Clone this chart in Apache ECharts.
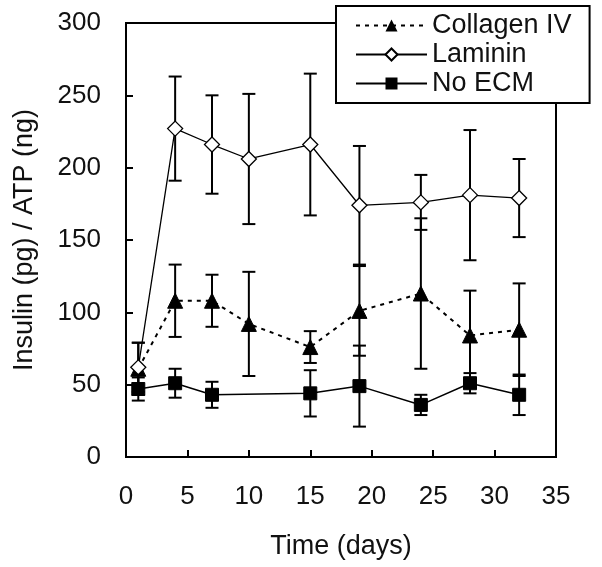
<!DOCTYPE html>
<html>
<head>
<meta charset="utf-8">
<script src="https://cdn.jsdelivr.net/npm/echarts@6/dist/echarts.min.js"></script>
<style>html,body{margin:0;padding:0;background:#fff}#c{width:602px;height:567px}</style>
</head>
<body>
<div id="c"></div>
<script>
var days = [1, 4, 7, 10, 15, 19, 24, 28, 32];
var collagen    = [61, 108, 108, 92, 76, 101, 113, 84, 88];
var collagenErr = [18, 25, 18, 36, 11, 31, 52, 31, 32];
var laminin     = [62, 227, 216, 206, 216, 174, 176, 181, 179];
var lamininErr  = [17, 36, 34, 45, 49, 41, 19, 45, 27];
var noEcm       = [47, 51, 43, null, 44, 49, 36, 51, 43];
var noEcmErr    = [8, 10, 9, null, 16, 28, 7, 7, 14];
var xTicks = [0, 35, 5];
var yTicks = [0, 300, 50];

var FONT = '"Liberation Sans", Arial, sans-serif';
var TXT = '#111';

function pts(vals) {
  return days.map(function (d, i) { return [d, vals[i]]; });
}
function errs(vals, e) {
  var out = [];
  days.forEach(function (d, i) {
    if (vals[i] != null) out.push([d, vals[i] - e[i], vals[i] + e[i]]);
  });
  return out;
}
function renderErr(params, api) {
  var x = api.value(0), lo = api.value(1), hi = api.value(2);
  var p1 = api.coord([x, hi]), p2 = api.coord([x, lo]);
  var hw = 6.5;
  var st = { stroke: '#000', lineWidth: 2 };
  return {
    type: 'group',
    children: [
      { type: 'line', shape: { x1: p1[0], y1: p1[1], x2: p2[0], y2: p2[1] }, style: st },
      { type: 'line', shape: { x1: p1[0] - hw, y1: p1[1], x2: p1[0] + hw, y2: p1[1] }, style: st },
      { type: 'line', shape: { x1: p2[0] - hw, y1: p2[1], x2: p2[0] + hw, y2: p2[1] }, style: st }
    ]
  };
}
function errSeries(vals, e) {
  return {
    type: 'custom', renderItem: renderErr, data: errs(vals, e),
    encode: { x: 0, y: [1, 2] }, z: 1, silent: true
  };
}

var chart = echarts.init(document.getElementById('c'), null, { renderer: 'canvas' });
chart.setOption({
  animation: false,
  backgroundColor: '#fff',
  textStyle: { fontFamily: FONT, color: TXT },
  grid: { left: 126, right: 46, top: 23, bottom: 110, show: true, borderColor: '#000', borderWidth: 2 },
  xAxis: {
    type: 'value', min: xTicks[0], max: xTicks[1], interval: xTicks[2],
    name: 'Time (days)', nameLocation: 'middle', nameGap: 76,
    nameTextStyle: { fontSize: 27, color: TXT, fontFamily: FONT },
    axisLine: { lineStyle: { color: '#000', width: 2 } },
    axisTick: { inside: true, length: 7, lineStyle: { color: '#000', width: 2 } },
    axisLabel: { fontSize: 26, color: TXT, margin: 27, fontFamily: FONT },
    splitLine: { show: false }
  },
  yAxis: {
    type: 'value', min: yTicks[0], max: yTicks[1], interval: yTicks[2],
    name: 'Insulin (pg) / ATP (ng)', nameLocation: 'middle', nameGap: 88,
    nameTextStyle: { fontSize: 27, color: TXT, fontFamily: FONT },
    axisLine: { lineStyle: { color: '#000', width: 2 } },
    axisTick: { inside: true, length: 7, lineStyle: { color: '#000', width: 2 } },
    axisLabel: { fontSize: 26, color: TXT, margin: 25, fontFamily: FONT },
    splitLine: { show: false }
  },
  legend: {
    orient: 'vertical', left: 336, top: 6,
    backgroundColor: '#fff', borderColor: '#000', borderWidth: 2,
    padding: [6, 18, 6, 19], itemWidth: 71, itemHeight: 15, itemGap: 2,
    textStyle: { fontSize: 27, color: TXT, fontFamily: FONT, lineHeight: 27 },
    data: ['Collagen IV', 'Laminin', 'No ECM'], z: 10
  },
  series: [
    errSeries(collagen, collagenErr),
    errSeries(laminin, lamininErr),
    errSeries(noEcm, noEcmErr),
    {
      name: 'Collagen IV', type: 'line', data: pts(collagen), z: 3,
      symbol: 'triangle', symbolSize: 15,
      lineStyle: { color: '#000', width: 2, type: [4, 5] },
      itemStyle: { color: '#000', borderColor: '#000' }
    },
    {
      name: 'Laminin', type: 'line', data: pts(laminin), z: 4,
      symbol: 'diamond', symbolSize: 15,
      lineStyle: { color: '#000', width: 1.3 },
      itemStyle: { color: '#fff', borderColor: '#000', borderWidth: 1.3 }
    },
    {
      name: 'No ECM', type: 'line', data: pts(noEcm), z: 3, connectNulls: true,
      symbol: 'rect', symbolSize: 13,
      lineStyle: { color: '#000', width: 1.5 },
      itemStyle: { color: '#000', borderColor: '#000' }
    }
  ]
});
</script>
</body>
</html>
